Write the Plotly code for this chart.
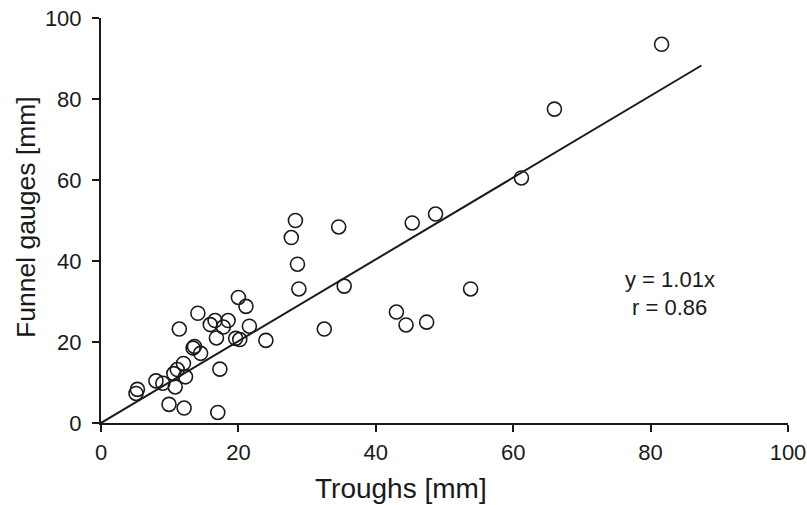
import plotly.graph_objects as go

# Data (Troughs vs Funnel gauges, mm)
troughs = [5.1, 5.3, 8.0, 9.0, 10.8, 9.9, 12.1, 17.0, 10.6, 11.1, 12.0, 12.3,
           17.3, 13.6, 13.4, 14.5, 11.4, 14.1, 15.9, 16.6, 18.5, 17.8, 16.8,
           19.6, 20.2, 21.6, 20.0, 21.1, 24.0, 32.5, 28.3, 27.7, 28.6, 28.8,
           34.6, 35.4, 45.3, 48.7, 43.0, 44.4, 47.4, 53.8, 61.2, 66.0, 81.6]
funnel = [7.3, 8.3, 10.4, 9.8, 8.9, 4.6, 3.7, 2.6, 12.2, 13.2, 14.7, 11.4,
          13.3, 18.9, 18.5, 17.2, 23.2, 27.1, 24.3, 25.3, 25.3, 23.7, 21.0,
          20.9, 20.6, 23.9, 31.0, 28.8, 20.4, 23.2, 50.0, 45.8, 39.2, 33.1,
          48.4, 33.8, 49.4, 51.6, 27.4, 24.2, 24.9, 33.1, 60.5, 77.5, 93.5]

slope = 1.01
r_value = 0.86
fit_x = [0, 87.4]
fit_y = [slope * v for v in fit_x]

tick_vals = [0, 20, 40, 60, 80, 100]
x_title = "Troughs [mm]"
y_title = "Funnel gauges [mm]"

FONT = "Liberation Sans, Arial, sans-serif"
INK = "#1a1a1a"

fig = go.Figure()
fig.add_trace(go.Scatter(x=fit_x, y=fit_y, mode="lines",
                         line=dict(color=INK, width=2), showlegend=False,
                         hoverinfo="skip"))
fig.add_trace(go.Scatter(x=troughs, y=funnel, mode="markers",
                         marker=dict(symbol="circle-open", size=14,
                                     color=INK, line=dict(width=1.6, color=INK)),
                         showlegend=False))

fig.add_annotation(x=82.8, y=35.5, xref="x", yref="y", text=f"y = {slope:.2f}x",
                   showarrow=False, font=dict(family=FONT, size=22, color=INK))
fig.add_annotation(x=82.8, y=28.6, xref="x", yref="y", text=f"r = {r_value:.2f}",
                   showarrow=False, font=dict(family=FONT, size=22, color=INK))

# Axis titles (placed as in the reference, x title is left of centre)
fig.add_annotation(x=0.4374, y=-0.162, xref="paper", yref="paper", text=x_title,
                   showarrow=False, xanchor="center", yanchor="middle",
                   font=dict(family=FONT, size=28, color=INK))
fig.add_annotation(x=-0.1085, y=0.51, xref="paper", yref="paper", text=y_title,
                   showarrow=False, xanchor="center", yanchor="middle", textangle=-90,
                   font=dict(family=FONT, size=26.5, color=INK))

axis_common = dict(
    range=[0, 100], tickvals=tick_vals, showgrid=False, zeroline=False,
    showline=True, linecolor=INK, linewidth=2, ticks="outside", ticklen=7,
    tickwidth=2, tickcolor=INK, tickfont=dict(family=FONT, size=22, color=INK),
    fixedrange=True, automargin=False,
)

fig.update_xaxes(**axis_common, ticklabelstandoff=2)
fig.update_yaxes(**axis_common, ticklabelstandoff=6)

fig.update_layout(
    width=807, height=505,
    margin=dict(l=101, r=19, t=18, b=82),
    paper_bgcolor="white", plot_bgcolor="white",
    font=dict(family=FONT, color=INK),
)

fig.write_html("out.html")
